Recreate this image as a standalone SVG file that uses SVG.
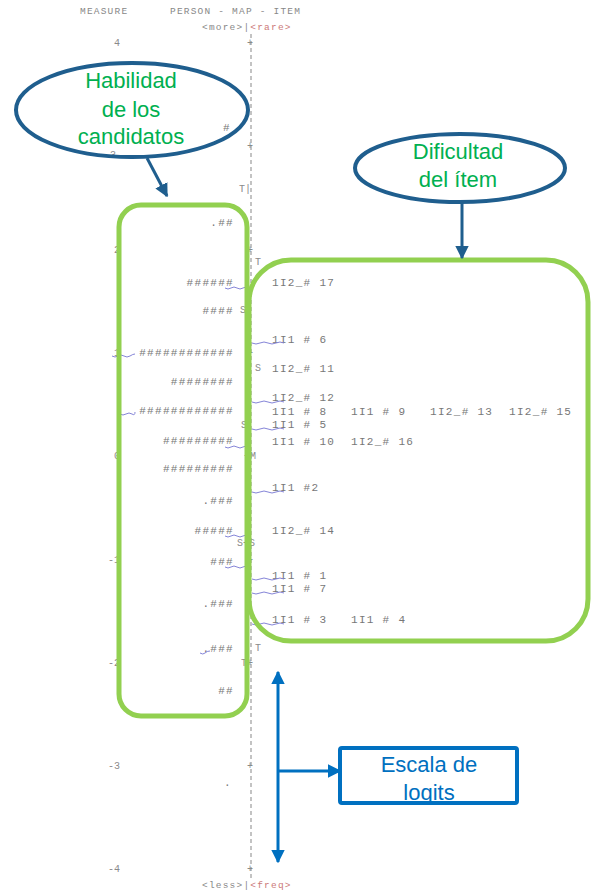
<svg xmlns="http://www.w3.org/2000/svg" width="592" height="893" viewBox="0 0 592 893">
<style>
.m{font-family:"Liberation Mono",monospace;font-size:11px;fill:#777;letter-spacing:1.3px;white-space:pre}
.h{font-family:"Liberation Mono",monospace;font-size:9.5px;fill:#888;letter-spacing:1.2px;white-space:pre}
.pe{text-anchor:end}
.ax{font-family:"Liberation Mono",monospace;font-size:10px;fill:#8a8a8a}
.sq{fill:none;stroke:#8585d8;stroke-width:1}
.g{fill:none;stroke:#92D050;stroke-width:5}
.el{fill:none;stroke:#1F5E8E;stroke-width:4}
.gt{font-family:"Liberation Sans",Arial,sans-serif;font-size:22px;fill:#00B050;text-anchor:middle}
.bt{font-family:"Liberation Sans",Arial,sans-serif;font-size:22px;fill:#0070C0;text-anchor:middle}
.dk{stroke:#1F5E8E;stroke-width:3;fill:none}
.bl{stroke:#0070C0;stroke-width:3;fill:none}
</style>
<defs>
<marker id="ad" viewBox="0 0 10 10" refX="9" refY="5" markerWidth="4.5" markerHeight="4.5" orient="auto"><path d="M0,0 L10,5 L0,10 z" fill="#1F5E8E"/></marker>
<marker id="ab" viewBox="0 0 10 10" refX="9" refY="5" markerWidth="4.5" markerHeight="4.5" orient="auto-start-reverse"><path d="M0,0 L10,5 L0,10 z" fill="#0070C0"/></marker>
</defs>
<rect width="592" height="893" fill="#fff"/>

<g id="wright-map">
<text class="h" x="80" y="14">MEASURE</text>
<text class="h" x="170" y="14">PERSON - MAP - ITEM</text>
<text class="h" x="202" y="30">&lt;more&gt;|<tspan fill="#cc7a7a">&lt;rare&gt;</tspan></text>
<line x1="251" y1="34" x2="251" y2="880" stroke="#b0b0b0" stroke-width="1.5" stroke-dasharray="4 3"/>
<g class="ax">
<text x="114" y="46">4</text><text x="247" y="46">+</text>
<text x="110" y="158">3</text><text x="247" y="149">+</text>
<text x="114" y="253">2</text><text x="247" y="253">+</text>
<text x="114" y="356">1</text><text x="247" y="356">+</text>
<text x="114" y="459">0</text><text x="244" y="459">+M</text>
<text x="108" y="563">-1</text><text x="247" y="563">+</text>
<text x="108" y="666">-2</text><text x="241" y="666">T+</text>
<text x="108" y="769">-3</text><text x="247" y="769">+</text>
<text x="108" y="872">-4</text><text x="247" y="872">+</text>
<text x="239" y="192">T|</text>
<text x="255" y="265">T</text>
<text x="240" y="313">S</text>
<text x="255" y="371">S</text>
<text x="241" y="428">S</text>
<text x="237" y="546">S+S</text>
<text x="255" y="651">T</text>
</g>
<text class="h" x="202" y="888">&lt;less&gt;|<tspan fill="#cc7a7a">&lt;freq&gt;</tspan></text>
</g>

<g id="persons">
<text class="m" x="223" y="131">#</text>
<text class="m pe" x="234" y="226">.##</text>
<text class="m pe" x="234" y="286">######</text>
<text class="m pe" x="234" y="314">####</text>
<text class="m pe" x="234" y="356">############</text>
<text class="m pe" x="234" y="385">########</text>
<text class="m pe" x="234" y="414">############</text>
<text class="m pe" x="234" y="444">#########</text>
<text class="m pe" x="234" y="472">#########</text>
<text class="m pe" x="234" y="504">.###</text>
<text class="m pe" x="234" y="534">#####</text>
<text class="m pe" x="234" y="565">###</text>
<text class="m pe" x="234" y="607">.###</text>
<text class="m pe" x="234" y="652">.###</text>
<text class="m pe" x="234" y="694">##</text>
<text class="m" x="224" y="786">.</text>
</g>

<g id="items">
<text class="m" x="272" y="286">1I2_# 17</text>
<text class="m" x="272" y="343">1I1 # 6</text>
<text class="m" x="272" y="372">1I2_# 11</text>
<text class="m" x="272" y="401">1I2_# 12</text>
<text class="m" x="272" y="415">1I1 # 8   1I1 # 9   1I2_# 13  1I2_# 15</text>
<text class="m" x="272" y="428">1I1 # 5</text>
<text class="m" x="272" y="445">1I1 # 10  1I2_# 16</text>
<text class="m" x="272" y="491">1I1 #2</text>
<text class="m" x="272" y="534">1I2_# 14</text>
<text class="m" x="272" y="579">1I1 # 1</text>
<text class="m" x="272" y="592">1I1 # 7</text>
<text class="m" x="272" y="623">1I1 # 3   1I1 # 4</text>
</g>

<g id="underlines">
<path class="sq" d="M225,288 q3,2 6,0 t6,0 t6,0 t6,0"/>
<path class="sq" d="M252,343 q4,2 8,0 t8,0 t8,0 t8,0"/>
<path class="sq" d="M112,356 q3,2 6,0 t6,0 t6,0 t5,-2"/>
<path class="sq" d="M252,402 q4,2 8,0 t8,0 t8,0 t8,0"/>
<path class="sq" d="M120,414 q3,2 6,0 t6,0 t3,-2"/>
<path class="sq" d="M252,429 q4,2 8,0 t8,0 t8,0 t8,0"/>
<path class="sq" d="M225,447 q3,2 6,0 t6,0 t6,0 t6,0"/>
<path class="sq" d="M252,492 q4,2 8,0 t8,0 t8,0 t8,0"/>
<path class="sq" d="M225,536 q3,2 6,0 t6,0 t6,0 t6,0"/>
<path class="sq" d="M225,567 q3,2 6,0 t6,0 t6,0 t6,0"/>
<path class="sq" d="M252,579 q4,2 8,0 t8,0 t8,0 t8,0"/>
<path class="sq" d="M252,593 q4,2 8,0 t8,0 t8,0 t8,0"/>
<path class="sq" d="M252,624 q4,2 8,0 t8,0 t8,0 t8,0"/>
<path class="sq" d="M200,653 q3,2 5,0 t5,-2"/>
</g>

<g id="person-box"><rect class="g" x="119" y="205" width="128" height="511" rx="22"/></g>
<g id="item-box"><rect class="g" x="249" y="260" width="339" height="381" rx="42"/></g>

<g id="habilidad">
<ellipse class="el" cx="132" cy="110" rx="116" ry="47"/>
<text class="gt" x="131" y="88">Habilidad</text>
<text class="gt" x="131" y="117">de los</text>
<text class="gt" x="131" y="144">candidatos</text>
</g>

<g id="dificultad">
<ellipse class="el" cx="460" cy="168" rx="105" ry="34"/>
<text class="gt" x="458" y="159">Dificultad</text>
<text class="gt" x="458" y="187">del ítem</text>
</g>

<g id="escala">
<rect x="340" y="748" width="177" height="55" fill="#fff"/>
<text class="bt" x="429" y="772">Escala de</text>
<text class="bt" x="429" y="800">logits</text>
<rect x="340" y="748" width="177" height="55" rx="2" fill="none" stroke="#0070C0" stroke-width="4"/>
</g>

<g id="connectors">
<line class="dk" x1="147" y1="158" x2="167" y2="196" marker-end="url(#ad)"/>
<line class="dk" x1="462" y1="203" x2="462" y2="258" marker-end="url(#ad)"/>
<line class="bl" x1="278" y1="672" x2="278" y2="862" marker-start="url(#ab)" marker-end="url(#ab)"/>
<line class="bl" x1="278" y1="771" x2="340" y2="771" marker-end="url(#ab)"/>
</g>
</svg>
